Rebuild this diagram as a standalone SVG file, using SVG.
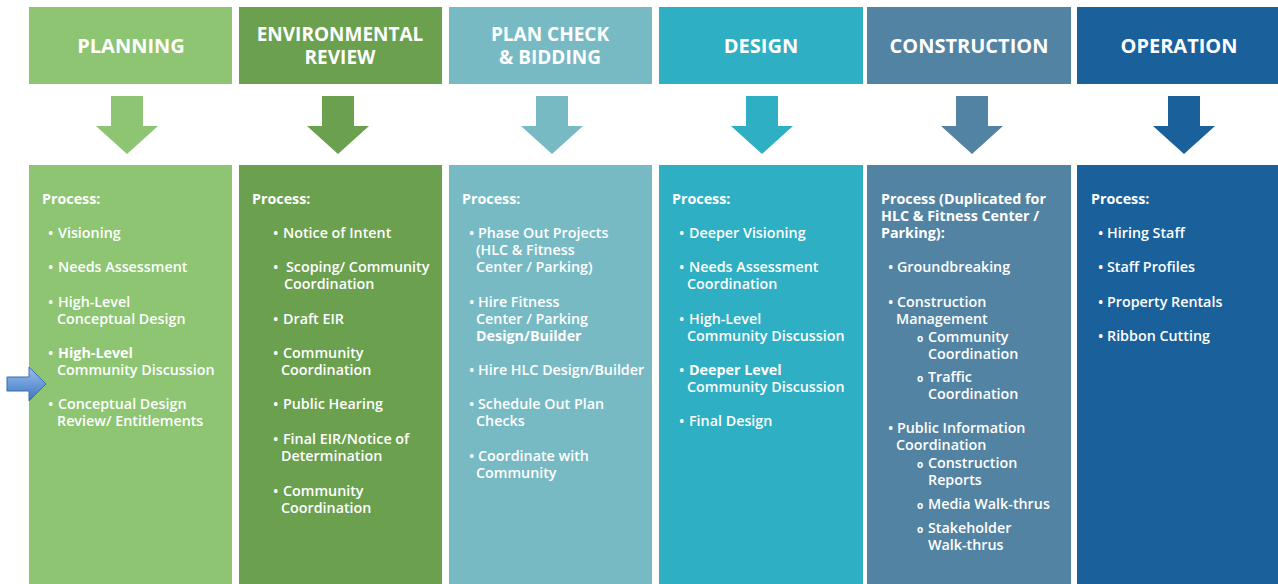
<svg xmlns="http://www.w3.org/2000/svg" width="1278" height="584" viewBox="0 0 1278 584">
<style>
.hdr{font-family:"Open Sans","Liberation Sans",sans-serif;font-weight:700;font-size:20px;fill:#fff;text-anchor:middle}
.h2{font-size:19px}
.t{font-family:"Open Sans","Liberation Sans",sans-serif;font-weight:600;font-size:14.3px;fill:#fff}
.b{font-weight:700}
.o{font-family:"Open Sans","Liberation Sans",sans-serif;font-weight:700;font-size:10px;fill:#fff}
.c1{fill:#8DC572}.c2{fill:#6BA04F}.c3{fill:#78BAC4}.c4{fill:#2EAFC4}.c5{fill:#5283A3}.c6{fill:#1A619B}
</style>
<defs>
<linearGradient id="bg" x1="0" y1="0" x2="0" y2="1">
<stop offset="0" stop-color="#9DBFEA"/>
<stop offset="0.5" stop-color="#6A9BD8"/>
<stop offset="1" stop-color="#3F74BA"/>
</linearGradient>
</defs>
<rect width="1278" height="584" fill="#fff"/>

<g id="planning">
<rect class="c1" x="29" y="7" width="203" height="77"/>
<text class="hdr" x="131" y="53">PLANNING</text>
<rect class="c1" x="29" y="165" width="203" height="425"/>
<text class="t b" x="42" y="204">Process:</text>
<text class="t" x="48" y="238">•</text><text class="t" x="58" y="238">Visioning</text>
<text class="t" x="48" y="272">•</text><text class="t" x="58" y="272">Needs Assessment</text>
<text class="t" x="48" y="307">•</text><text class="t" x="58" y="307">High-Level</text>
<text class="t" x="57" y="324">Conceptual Design</text>
<text class="t" x="48" y="358">•</text><text class="t b" x="58" y="358">High-Level</text>
<text class="t" x="57" y="375">Community Discussion</text>
<text class="t" x="48" y="409">•</text><text class="t" x="58" y="409">Conceptual Design</text>
<text class="t" x="57" y="426">Review/ Entitlements</text>
</g>

<g id="environmental-review">
<rect class="c2" x="239" y="7" width="203" height="77"/>
<text class="hdr h2" x="340" y="41">ENVIRONMENTAL</text>
<text class="hdr h2" x="340" y="64">REVIEW</text>
<rect class="c2" x="239" y="165" width="203" height="425"/>
<text class="t b" x="252" y="204">Process:</text>
<text class="t" x="273" y="238">•</text><text class="t" x="283" y="238">Notice of Intent</text>
<text class="t" x="273" y="272">•</text><text class="t" x="286" y="272">Scoping/ Community</text>
<text class="t" x="284" y="289">Coordination</text>
<text class="t" x="273" y="324">•</text><text class="t" x="283" y="324">Draft EIR</text>
<text class="t" x="273" y="358">•</text><text class="t" x="283" y="358">Community</text>
<text class="t" x="281" y="375">Coordination</text>
<text class="t" x="273" y="409">•</text><text class="t" x="283" y="409">Public Hearing</text>
<text class="t" x="273" y="444">•</text><text class="t" x="283" y="444">Final EIR/Notice of</text>
<text class="t" x="281" y="461">Determination</text>
<text class="t" x="273" y="496">•</text><text class="t" x="283" y="496">Community</text>
<text class="t" x="281" y="513">Coordination</text>
</g>

<g id="plan-check-bidding">
<rect class="c3" x="449" y="7" width="203" height="77"/>
<text class="hdr h2" x="550" y="41">PLAN CHECK</text>
<text class="hdr h2" x="550" y="64">&amp; BIDDING</text>
<rect class="c3" x="449" y="165" width="203" height="425"/>
<text class="t b" x="462" y="204">Process:</text>
<text class="t" x="469" y="238">•</text><text class="t" x="478" y="238">Phase Out Projects</text>
<text class="t" x="476" y="255">(HLC &amp; Fitness</text>
<text class="t" x="476" y="272">Center / Parking)</text>
<text class="t" x="469" y="307">•</text><text class="t" x="478" y="307">Hire Fitness</text>
<text class="t" x="476" y="324">Center / Parking</text>
<text class="t b" x="476" y="341">Design/Builder</text>
<text class="t" x="469" y="375">•</text><text class="t" x="478" y="375">Hire HLC Design/Builder</text>
<text class="t" x="469" y="409">•</text><text class="t" x="478" y="409">Schedule Out Plan</text>
<text class="t" x="476" y="426">Checks</text>
<text class="t" x="469" y="461">•</text><text class="t" x="478" y="461">Coordinate with</text>
<text class="t" x="476" y="478">Community</text>
</g>

<g id="design">
<rect class="c4" x="659" y="7" width="204" height="77"/>
<text class="hdr" x="761" y="53">DESIGN</text>
<rect class="c4" x="659" y="165" width="204" height="425"/>
<text class="t b" x="672" y="204">Process:</text>
<text class="t" x="679" y="238">•</text><text class="t" x="689" y="238">Deeper Visioning</text>
<text class="t" x="679" y="272">•</text><text class="t" x="689" y="272">Needs Assessment</text>
<text class="t" x="687" y="289">Coordination</text>
<text class="t" x="679" y="324">•</text><text class="t" x="689" y="324">High-Level</text>
<text class="t" x="687" y="341">Community Discussion</text>
<text class="t" x="679" y="375">•</text><text class="t b" x="689" y="375">Deeper Level</text>
<text class="t" x="687" y="392">Community Discussion</text>
<text class="t" x="679" y="426">•</text><text class="t" x="689" y="426">Final Design</text>
</g>

<g id="construction">
<rect class="c5" x="867" y="7" width="204" height="77"/>
<text class="hdr" x="969" y="53">CONSTRUCTION</text>
<rect class="c5" x="867" y="165" width="204" height="425"/>
<text class="t b" x="881" y="204">Process (Duplicated for</text>
<text class="t b" x="881" y="221">HLC &amp; Fitness Center /</text>
<text class="t b" x="881" y="238">Parking):</text>
<text class="t" x="888" y="272">•</text><text class="t" x="897" y="272">Groundbreaking</text>
<text class="t" x="888" y="307">•</text><text class="t" x="897" y="307">Construction</text>
<text class="t" x="896" y="324">Management</text>
<text class="o" x="917" y="342">o</text><text class="t" x="928" y="342">Community</text>
<text class="t" x="928" y="359">Coordination</text>
<text class="o" x="917" y="382">o</text><text class="t" x="928" y="382">Traffic</text>
<text class="t" x="928" y="399">Coordination</text>
<text class="t" x="888" y="433">•</text><text class="t" x="897" y="433">Public Information</text>
<text class="t" x="896" y="450">Coordination</text>
<text class="o" x="917" y="468">o</text><text class="t" x="928" y="468">Construction</text>
<text class="t" x="928" y="485">Reports</text>
<text class="o" x="917" y="509">o</text><text class="t" x="928" y="509">Media Walk-thrus</text>
<text class="o" x="917" y="533">o</text><text class="t" x="928" y="533">Stakeholder</text>
<text class="t" x="928" y="550">Walk-thrus</text>
</g>

<g id="operation">
<rect class="c6" x="1077" y="7" width="210" height="77"/>
<text class="hdr" x="1179" y="53">OPERATION</text>
<rect class="c6" x="1077" y="165" width="210" height="425"/>
<text class="t b" x="1091" y="204">Process:</text>
<text class="t" x="1098" y="238">•</text><text class="t" x="1107" y="238">Hiring Staff</text>
<text class="t" x="1098" y="272">•</text><text class="t" x="1107" y="272">Staff Profiles</text>
<text class="t" x="1098" y="307">•</text><text class="t" x="1107" y="307">Property Rentals</text>
<text class="t" x="1098" y="341">•</text><text class="t" x="1107" y="341">Ribbon Cutting</text>
</g>

<g id="connectors">
<polygon class="c1" points="111,96 143,96 143,126 158,126 127,154 96,126 111,126"/>
<polygon class="c2" points="322,96 354,96 354,126 369,126 338,154 307,126 322,126"/>
<polygon class="c3" points="536,96 568,96 568,126 583,126 552,154 521,126 536,126"/>
<polygon class="c4" points="746,96 778,96 778,126 793,126 762,154 731,126 746,126"/>
<polygon class="c5" points="956,96 988,96 988,126 1003,126 972,154 941,126 956,126"/>
<polygon class="c6" points="1168,96 1200,96 1200,126 1215,126 1184,154 1153,126 1168,126"/>
</g>

<g id="pointer">
<polygon points="7,377 29,377 29,367 46,384 29,401 29,391 7,391" fill="url(#bg)" stroke="#3C6DB0" stroke-width="1" stroke-linejoin="round"/>
</g>
</svg>
